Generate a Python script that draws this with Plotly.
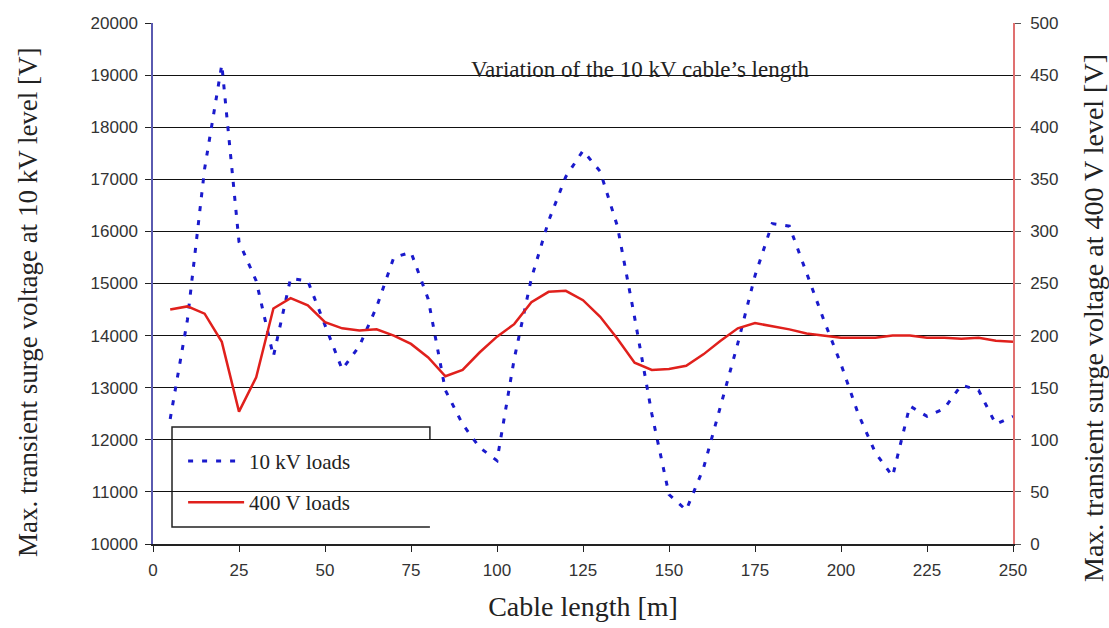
import plotly.graph_objects as go

# Cable length of the 10 kV cable [m]
length_m = list(range(5, 255, 5))

# Max. transient surge voltage at the 10 kV level [V]
surge_10kv = [
    12400, 14300, 17200, 19200, 15800, 15050, 13600, 15100, 15050, 14200,
    13350, 13800, 14550, 15500, 15600, 14700, 12950, 12300, 11850, 11600,
    13550, 15100, 16200, 17050, 17550, 17150, 16100, 14350, 12500, 10950,
    10650, 11450, 12650, 13850, 15150, 16150, 16100, 15200, 14300, 13450,
    12500, 11750, 11300, 12650, 12450, 12600, 13050, 12950, 12300, 12450,
]

# Max. transient surge voltage at the 400 V level [V]
surge_400v = [
    225, 228, 221, 194, 127, 160, 226, 236, 229, 213,
    207, 205, 206, 200, 192, 179, 161, 167, 184, 199,
    211, 232, 242, 243, 234, 218, 197, 174, 167, 168,
    171, 182, 195, 207, 212, 209, 206, 202, 200, 198,
    198, 198, 200, 200, 198, 198, 197, 198, 195, 194,
]

x_ticks = list(range(0, 275, 25))
left_ticks = list(range(10000, 21000, 1000))
right_ticks = list(range(0, 550, 50))

SERIF = "Liberation Serif, Times New Roman, serif"
SANS = "Liberation Sans, Arial, sans-serif"
INK = "#222222"

fig = go.Figure()

fig.add_trace(go.Scatter(
    x=length_m, y=surge_10kv, name="10 kV loads", mode="lines",
    line=dict(color="#1a1acc", width=3, dash="5px,9px"),
    legendgroup="a", yaxis="y",
))
fig.add_trace(go.Scatter(
    x=length_m, y=surge_400v, name="400 V loads", mode="lines",
    line=dict(color="#e0201c", width=2.5),
    legendgroup="b", yaxis="y2",
))

# white backing behind the chart caption
fig.add_shape(type="rect", xref="paper", yref="paper",
              x0=0.345, x1=0.834, y0=0.877, y1=0.935,
              fillcolor="white", line=dict(width=0), layer="between")

# legend frame
fig.add_shape(type="rect", xref="paper", yref="paper",
              x0=0.0221, x1=0.322, y0=0.0326, y1=0.2246,
              fillcolor="white", line=dict(width=0), layer="between")
fig.add_shape(type="path", xref="paper", yref="paper",
              path="M 0.322,0.1996 L 0.322,0.2246 L 0.0221,0.2246 "
                   "L 0.0221,0.0326 L 0.322,0.0326",
              line=dict(color=INK, width=1.5), layer="between")

fig.add_annotation(
    text="Variation of the 10 kV cable\u2019s length",
    xref="paper", yref="paper", x=0.5663, y=0.9098,
    xanchor="center", yanchor="middle",
    showarrow=False, font=dict(family=SERIF, size=23, color=INK),
)

# vertical axis titles
fig.add_annotation(
    text="Max. transient surge voltage at 10 kV level [V]",
    xref="paper", yref="paper", x=-0.1453, y=0.4645,
    xanchor="center", yanchor="middle", textangle=-90,
    showarrow=False, font=dict(family=SERIF, size=27, color=INK),
)
fig.add_annotation(
    text="Max. transient surge voltage at 400 V level [V]",
    xref="paper", yref="paper", x=1.0942, y=0.4338,
    xanchor="center", yanchor="middle", textangle=-90,
    showarrow=False, font=dict(family=SERIF, size=28, color=INK),
)

fig.update_layout(
    width=1109, height=628,
    margin=dict(l=153, r=96, t=23, b=84),
    paper_bgcolor="white", plot_bgcolor="white",
    showlegend=True,
    legend=dict(
        x=0.035, y=0.198, xanchor="left", yanchor="top",
        bgcolor="rgba(0,0,0,0)", borderwidth=0,
        font=dict(family=SERIF, size=21, color=INK),
        tracegroupgap=11, itemwidth=56,
    ),
    xaxis=dict(
        range=[0, 250], tickvals=x_ticks, showgrid=False, zeroline=False,
        showline=True, linecolor=INK, linewidth=1.5,
        ticks="outside", ticklen=6, tickcolor=INK,
        ticklabelstandoff=4,
        tickfont=dict(family=SANS, size=17, color="#333333"),
        title=dict(text="Cable length [m]", standoff=17,
                   font=dict(family=SERIF, size=28, color=INK)),
    ),
    yaxis=dict(
        range=[10000, 20000], tickvals=left_ticks, tickformat="d",
        zeroline=False,
        showgrid=True, gridcolor="#111111", gridwidth=1.3,
        showline=True, linecolor="#5a5ab0", linewidth=1.5,
        ticks="outside", ticklen=6, tickcolor=INK,
        ticklabelstandoff=4,
        tickfont=dict(family=SANS, size=17, color="#333333"),
    ),
    yaxis2=dict(
        range=[0, 500], tickvals=right_ticks, overlaying="y", side="right",
        showgrid=False, zeroline=False,
        showline=True, linecolor="#e07070", linewidth=1.5,
        ticks="outside", ticklen=6, tickcolor="#555555",
        ticklabelstandoff=6,
        tickfont=dict(family=SANS, size=17, color="#333333"),
    ),
)

fig.write_html("out.html")
